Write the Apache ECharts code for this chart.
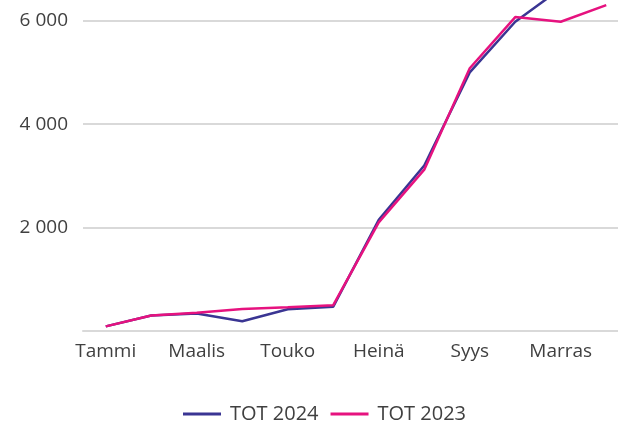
<!DOCTYPE html>
<html>
<head>
<meta charset="utf-8">
<script src="https://cdn.jsdelivr.net/npm/echarts@6/dist/echarts.min.js"></script>
<style>
  html, body { margin: 0; padding: 0; background: #fff; overflow: hidden; }
  #chart { width: 640px; height: 427px; }
</style>
</head>
<body>
<div id="chart"></div>
<script>
// kuukaudet
var months = ['Tammi', 'Helmi', 'Maalis', 'Huhti', 'Touko', 'Kesä', 'Heinä', 'Elo', 'Syys', 'Loka', 'Marras', 'Joulu'];
// kertymä, luettu kuvasta
var tot2024 = [90, 300, 340, 190, 420, 470, 2150, 3200, 5000, 5980, 6620, null];
var tot2023 = [90, 300, 355, 425, 458, 500, 2100, 3120, 5080, 6070, 5980, 6300];
var yTicks = [0, 2000, 4000, 6000];

(function(){
    // kaavio on hieman ikkunaa leveämpi, oikea reuna rajautuu pois
    var chart = echarts.init(document.getElementById('chart'));

    var fmt = function (v) {
        return String(v).replace(/\B(?=(\d{3})+(?!\d))/g, ' ');
    };

    var option = {
        animation: false,
        textStyle: { fontFamily: 'Open Sans' },
        grid: { left: 83, top: 0, width: 546, height: 331 },
        legend: {
            top: 399,
            left: 178,
            icon: 'rect',
            itemWidth: 38,
            itemHeight: 3,
            itemGap: 12,
            textStyle: { fontSize: 20, color: '#404040', padding: [0, 0, 0, 4] },
            data: ['TOT 2024', 'TOT 2023']
        },
        xAxis: {
            type: 'category',
            data: months,
            axisTick: { show: false },
            axisLine: { lineStyle: { color: '#d9d9d9', width: 2 } },
            axisLabel: { interval: 1, fontSize: 19, color: '#404040', margin: 11 }
        },
        yAxis: {
            type: 'value',
            min: yTicks[0],
            max: 6400,
            interval: yTicks[1] - yTicks[0],
            axisLine: { show: false },
            axisTick: { show: false },
            axisLabel: {
                fontSize: 19, color: '#404040', margin: 15,
                showMinLabel: false, showMaxLabel: false,
                formatter: fmt
            },
            splitLine: { showMaxLine: false, lineStyle: { color: '#d9d9d9', width: 2 } }
        },
        series: [
            {
                name: 'TOT 2024',
                type: 'line',
                data: tot2024,
                showSymbol: false,
                symbol: 'none',
                color: '#3a3593',
                lineStyle: { width: 2.5 },
                clip: true
            },
            {
                name: 'TOT 2023',
                type: 'line',
                data: tot2023,
                showSymbol: false,
                symbol: 'none',
                color: '#e6127f',
                lineStyle: { width: 2.5 },
                clip: true
            }
        ]
    };

    chart.setOption(option);
})();
</script>
</body>
</html>
